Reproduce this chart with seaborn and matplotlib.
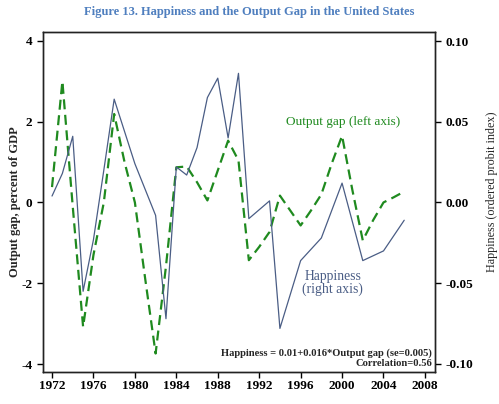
import matplotlib
matplotlib.use("Agg")
import matplotlib.pyplot as plt
import seaborn as sns

# output gap, percent of GDP (left axis), annual
gap_years = list(range(1972, 2007))
gap_values = [0.38, 3.0, -0.1, -3.08, -1.3, 0.0, 2.19, 1.0, 0.0, -1.9, -3.74,
              -1.58, 0.87, 0.89, 0.5, 0.05, 0.79, 1.53, 1.04, -1.43, -1.1,
              -0.73, 0.17, -0.2, -0.57, -0.2, 0.2, 0.96, 1.65, 0.3, -0.94,
              -0.44, 0.0, 0.13, 0.27]

# happiness, ordered probit index (right axis), GSS survey years
hap_years = [1972, 1973, 1974, 1975, 1976, 1977, 1978, 1980, 1982, 1983, 1984,
             1985, 1986, 1987, 1988, 1989, 1990, 1991, 1993, 1994, 1996, 1998,
             2000, 2002, 2004, 2006]
hap_values = [0.004, 0.018, 0.041, -0.055, -0.023, 0.020, 0.064, 0.024,
              -0.008, -0.072, 0.022, 0.017, 0.034, 0.065, 0.077, 0.040,
              0.080, -0.010, 0.001, -0.078, -0.036, -0.022, 0.012, -0.036,
              -0.030, -0.011]

left_ticks = [-4, -2, 0, 2, 4]
right_ticks = [-0.10, -0.05, 0.00, 0.05, 0.10]
year_ticks = list(range(1972, 2009, 4))

sns.set_style("ticks")
plt.rcParams['font.family'] = ['Liberation Serif', 'DejaVu Serif']

green = "#1f8a1f"
blue = "#4a5d85"

fig = plt.figure(figsize=(4.99, 4.04), dpi=100)
ax = fig.add_axes([0.0862, 0.0800, 0.7855, 0.8408])
ax2 = ax.twinx()

sns.lineplot(x=gap_years, y=gap_values, ax=ax, color=green, lw=1.6,
             zorder=3)
ax.lines[0].set_dashes([4.5, 2.5])
sns.lineplot(x=hap_years, y=hap_values, ax=ax2, color=blue, lw=0.9)

ax.set_xlim(1971.13, 2008.97)
ax.set_ylim(-4.19, 4.22)
ax2.set_ylim(-0.1048, 0.1056)
ax.set_xticks(year_ticks)
ax.set_yticks(left_ticks)
ax2.set_yticks(right_ticks)
ax.set_yticklabels([f"{t:d}" for t in left_ticks])
ax2.set_yticklabels([f"{t:.2f}" for t in right_ticks])

for a in (ax, ax2):
    a.tick_params(direction="out", length=4, width=1, labelsize=9.5,
                  colors="black")
    for s in a.spines.values():
        s.set_visible(True)
        s.set_linewidth(1.0)
        s.set_color("#222222")
    for lab in a.get_xticklabels() + a.get_yticklabels():
        lab.set_fontweight("bold")
ax.tick_params(axis="x", pad=2)

ax.set_xlabel("")
ax.set_ylabel("Output gap, percent of GDP", fontsize=9, fontweight="bold")
ax.yaxis.set_label_coords(-0.057, 0.5)
ax2.set_ylabel("Happiness (ordered probit index)", fontsize=8.7)
ax2.yaxis.set_label_coords(1.129, 0.53)

ax.text(2000.1, 1.98, "Output gap (left axis)", color=green, fontsize=9.5,
        ha="center", va="center")
ax.text(1999.1, -2.0, "Happiness\n(right axis)", color=blue, fontsize=9.8,
        ha="center", va="center", linespacing=0.9)
ax.text(2008.7, -3.72, "Happiness = 0.01+0.016*Output gap (se=0.005)",
        fontsize=7.6, fontweight="bold", ha="right", va="center")
ax.text(2008.7, -3.98, "Correlation=0.56", fontsize=7.6, fontweight="bold",
        ha="right", va="center")

fig.text(0.5, 0.970, "Figure 13. Happiness and the Output Gap in the United States",
         ha="center", va="center", color="#4f7fbf", fontsize=9,
         fontweight="bold")

fig.savefig("out.png", dpi=100)
